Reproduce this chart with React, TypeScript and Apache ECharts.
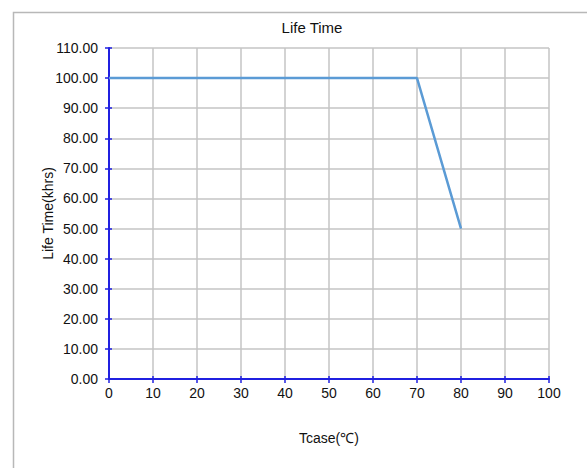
import React, { useEffect, useRef } from "react";
import * as echarts from "echarts";

const xValues = [0, 70, 80];
const lifeValues = [100, 100, 50];
const titleText = "Life Time";
const xName = "Tcase(℃)";
const yName = "Life Time(khrs)";

export default function App() {
  const ref = useRef<HTMLDivElement>(null);
  useEffect(() => {
    if (!ref.current) return;
    const chart = echarts.init(ref.current, undefined, { renderer: "svg" });
    const font = "'Liberation Sans', Arial, sans-serif";
    const axisBlue = "#2020e0";
    const innerTickAxis = {
      type: "value",
      min: 0,
      interval: 10,
      axisLine: { show: false },
      axisLabel: { show: false },
      splitLine: { show: false },
      axisTick: { show: true, inside: true, length: 3, lineStyle: { color: axisBlue, width: 1.5 } },
    };
    chart.setOption({
      animation: false,
      backgroundColor: "#ffffff",
      textStyle: { fontFamily: font },
      title: {
        text: titleText,
        left: 307,
        top: 15,
        textAlign: "center",
        textStyle: { fontSize: 15, fontWeight: "normal", color: "#111", fontFamily: font },
      },
      graphic: [
        {
          type: "rect",
          left: 11,
          top: 10,
          shape: { width: 620, height: 500 },
          style: { fill: "none", stroke: "#b8b8b8", lineWidth: 1.5 },
          silent: true,
        },
      ],
      grid: { left: 109, right: 38, top: 48, bottom: 89, containLabel: false },
      xAxis: [
        {
          type: "value",
          min: 0,
          max: 100,
          interval: 10,
          position: "bottom",
          name: xName,
          nameLocation: "middle",
          nameGap: 52,
          nameMoveOverlap: false,
          nameTextStyle: { fontSize: 14, color: "#111", fontFamily: font },
          axisLine: { show: true, onZero: false, lineStyle: { color: axisBlue, width: 2 } },
          axisTick: { show: true, length: 4, lineStyle: { color: axisBlue, width: 1.5 } },
          axisLabel: { fontSize: 14, color: "#111", margin: 7, fontFamily: font },
          splitLine: { show: true, lineStyle: { color: "#c4c4c4", width: 1.5 } },
        },
        { ...innerTickAxis, max: 100, position: "bottom", offset: 0 },
      ],
      yAxis: [
        {
          type: "value",
          min: 0,
          max: 110,
          interval: 10,
          position: "left",
          name: yName,
          nameLocation: "middle",
          nameGap: 54,
          nameMoveOverlap: false,
          nameRotate: 90,
          nameTextStyle: { fontSize: 14, color: "#111", fontFamily: font },
          axisLine: { show: true, onZero: false, lineStyle: { color: axisBlue, width: 2 } },
          axisTick: { show: true, length: 4, lineStyle: { color: axisBlue, width: 1.5 } },
          axisLabel: {
            fontSize: 14,
            color: "#111",
            margin: 11,
            fontFamily: font,
            formatter: (v: number) => v.toFixed(2),
          },
          splitLine: { show: true, lineStyle: { color: "#c4c4c4", width: 1.5 } },
        },
        { ...innerTickAxis, max: 110, position: "left", offset: 0 },
      ],
      series: [
        {
          type: "line",
          xAxisIndex: 0,
          yAxisIndex: 0,
          data: xValues.map((x, i) => [x, lifeValues[i]]),
          showSymbol: false,
          symbol: "none",
          lineStyle: { color: "#5b9bd5", width: 2.5 },
          z: 5,
        },
      ],
    });
    return () => chart.dispose();
  }, []);
  return (
    <div
      ref={ref}
      style={{ position: "fixed", left: 0, top: 0, width: 587, height: 468 }}
    />
  );
}
